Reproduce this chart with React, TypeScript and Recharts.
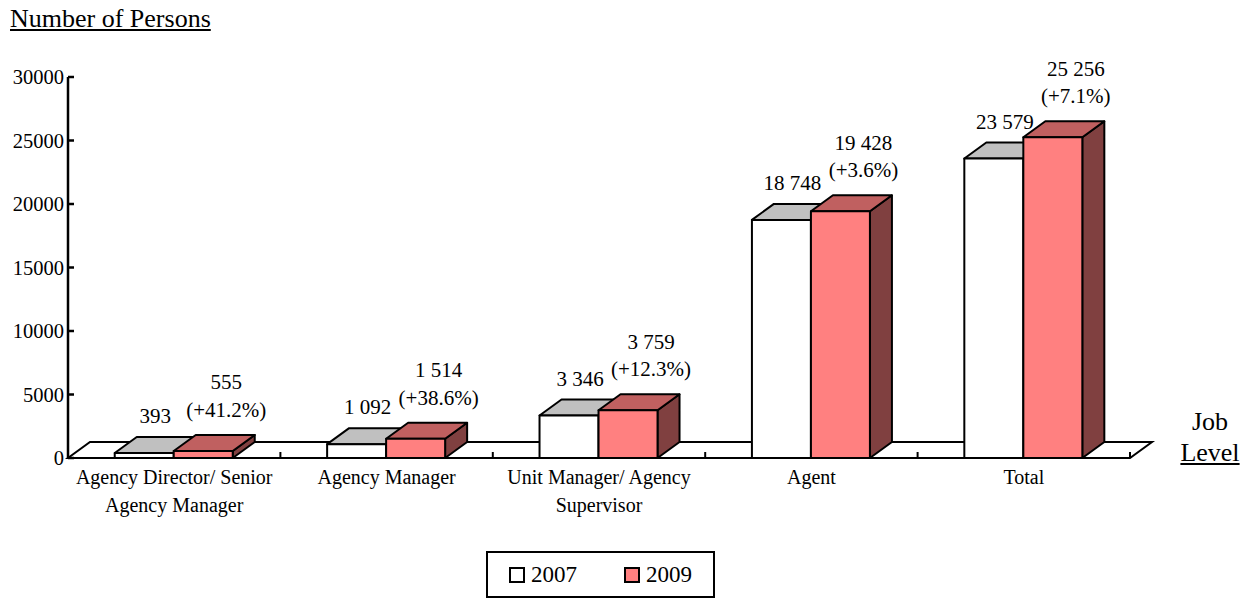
import { Bar, BarChart, LabelList, ReferenceArea, XAxis, YAxis } from 'recharts';

const categories = [
  'Agency Director/ Senior Agency Manager',
  'Agency Manager',
  'Unit Manager/ Agency Supervisor',
  'Agent',
  'Total',
];
const persons2007 = [393, 1092, 3346, 18748, 23579];
const persons2009 = [555, 1514, 3759, 19428, 25256];
const changes = ['+41.2%', '+38.6%', '+12.3%', '+3.6%', '+7.1%'];
const yTicks = [0, 5000, 10000, 15000, 20000, 25000, 30000];

const data = categories.map((name, i) => ({
  name,
  y2007: persons2007[i],
  y2009: persons2009[i],
  change: changes[i],
}));

const FONT = '"Liberation Serif", "Times New Roman", serif';
const DEPTH_X = 22;
const DEPTH_Y = 16;

const fmt = (n: number) => String(n).replace(/\B(?=(\d{3})+(?!\d))/g, ' ');

function wrapWords(text: string, maxChars: number) {
  const lines: string[] = [];
  let cur = '';
  for (const w of text.split(' ')) {
    const next = cur ? `${cur} ${w}` : w;
    if (next.length > maxChars && cur) {
      lines.push(cur);
      cur = w;
    } else {
      cur = next;
    }
  }
  if (cur) lines.push(cur);
  return lines;
}

function makeBox(front: string, top: string, side: string) {
  return (props: any) => {
    const { x, y, width: w, height: h } = props;
    const pts = (arr: number[][]) => arr.map((p) => p.join(',')).join(' ');
    return (
      <g stroke="#000" strokeWidth={2} strokeLinejoin="round">
        <polygon
          fill={side}
          points={pts([[x + w, y], [x + w + DEPTH_X, y - DEPTH_Y], [x + w + DEPTH_X, y + h - DEPTH_Y], [x + w, y + h]])}
        />
        <polygon
          fill={top}
          points={pts([[x, y], [x + w, y], [x + w + DEPTH_X, y - DEPTH_Y], [x + DEPTH_X, y - DEPTH_Y]])}
        />
        <rect x={x} y={y} width={w} height={h} fill={front} />
      </g>
    );
  };
}

// floor of the 3D plot, with category dividers
function Floor(props: any) {
  const { x, y, width: w, height: h } = props;
  const b = y + h;
  const n = categories.length;
  return (
    <g stroke="#000" strokeWidth={2}>
      <polygon
        fill="#fff"
        points={`${x},${b} ${x + w},${b} ${x + w + DEPTH_X},${b - DEPTH_Y} ${x + DEPTH_X},${b - DEPTH_Y}`}
      />
      {categories.map((_, i) => (
        <line key={i} x1={x + ((i + 1) * w) / n} x2={x + ((i + 1) * w) / n} y1={b} y2={b - 6} />
      ))}
    </g>
  );
}

function YTick({ x, y, payload }: any) {
  return (
    <g>
      <line x1={x} x2={x + 6} y1={y} y2={y} stroke="#000" strokeWidth={2.5} />
      <text x={x - 4} y={y} dy="0.35em" textAnchor="end" fontFamily={FONT} fontSize={20.5} fill="#000">
        {payload.value}
      </text>
    </g>
  );
}

function XTick({ x, y, payload }: any) {
  const lines = wrapWords(payload.value, 24);
  return (
    <text x={x} y={y + 26} textAnchor="middle" fontFamily={FONT} fontSize={20} fill="#000">
      {lines.map((l, i) => (
        <tspan key={i} x={x} dy={i === 0 ? 0 : 28}>
          {l}
        </tspan>
      ))}
    </text>
  );
}

function Label2007({ x, y, width, value }: any) {
  return (
    <text x={x + width / 2 + DEPTH_X / 2} y={y - DEPTH_Y - 14} textAnchor="middle" fontFamily={FONT} fontSize={21} fill="#000">
      {fmt(value)}
    </text>
  );
}

function Label2009({ x, y, width, value, index }: any) {
  const cx = x + width / 2 + DEPTH_X / 2 + 12;
  const base = y - DEPTH_Y - 18;
  return (
    <text textAnchor="middle" fontFamily={FONT} fontSize={21} fill="#000">
      <tspan x={cx} y={base - 27.5}>{fmt(value)}</tspan>
      <tspan x={cx} y={base}>({changes[index]})</tspan>
    </text>
  );
}

function LegendItem({ left, color, label }: { left: number; color: string; label: string }) {
  return (
    <div style={{ position: 'absolute', left, top: 0, height: 43, lineHeight: '43px', whiteSpace: 'nowrap' }}>
      <span
        style={{
          display: 'inline-block',
          width: 12,
          height: 12,
          border: '2px solid #000',
          background: color,
          marginRight: 6,
          verticalAlign: '-1px',
        }}
      />
      {label}
    </div>
  );
}

export default function App() {
  return (
    <div style={{ position: 'absolute', left: 0, top: 0, width: 1253, height: 599, background: '#fff', fontFamily: FONT }}>
      <div style={{ position: 'absolute', left: 10, top: 6, fontSize: 26, lineHeight: '26px', textDecoration: 'underline' }}>
        Number of Persons
      </div>
      <BarChart
        width={1253}
        height={599}
        data={data}
        margin={{ top: 77, right: 123, bottom: 0, left: 0 }}
        barCategoryGap="22%"
        barGap={0}
      >
        <ReferenceArea y1={0} y2={30000} shape={<Floor />} fill="none" stroke="none" />
        <YAxis
          width={68}
          domain={[0, 30000]}
          ticks={yTicks}
          interval={0}
          tickSize={0}
          tickMargin={0}
          tick={<YTick />}
          axisLine={{ stroke: '#000', strokeWidth: 2.5 }}
        />
        <XAxis
          dataKey="name"
          height={141}
          tickSize={0}
          tickMargin={0}
          interval={0}
          axisLine={false}
          tickLine={false}
          tick={<XTick />}
        />
        <Bar dataKey="y2007" isAnimationActive={false} shape={makeBox('#ffffff', '#c0c0c0', '#c0c0c0')}>
          <LabelList dataKey="y2007" content={<Label2007 />} />
        </Bar>
        <Bar dataKey="y2009" isAnimationActive={false} shape={makeBox('#ff8080', '#c06060', '#804040')}>
          <LabelList dataKey="y2009" content={<Label2009 />} />
        </Bar>
      </BarChart>
      <div
        style={{
          position: 'absolute',
          left: 1160,
          top: 406,
          width: 100,
          textAlign: 'center',
          fontSize: 26,
          lineHeight: '31px',
        }}
      >
        Job
        <br />
        <span style={{ textDecoration: 'underline' }}>Level</span>
      </div>
      <div
        style={{
          position: 'absolute',
          left: 486,
          top: 551,
          width: 229,
          height: 47,
          border: '2px solid #000',
          boxSizing: 'border-box',
          fontSize: 23,
        }}
      >
        <LegendItem left={21} color="#ffffff" label="2007" />
        <LegendItem left={136} color="#ff8080" label="2009" />
      </div>
    </div>
  );
}
